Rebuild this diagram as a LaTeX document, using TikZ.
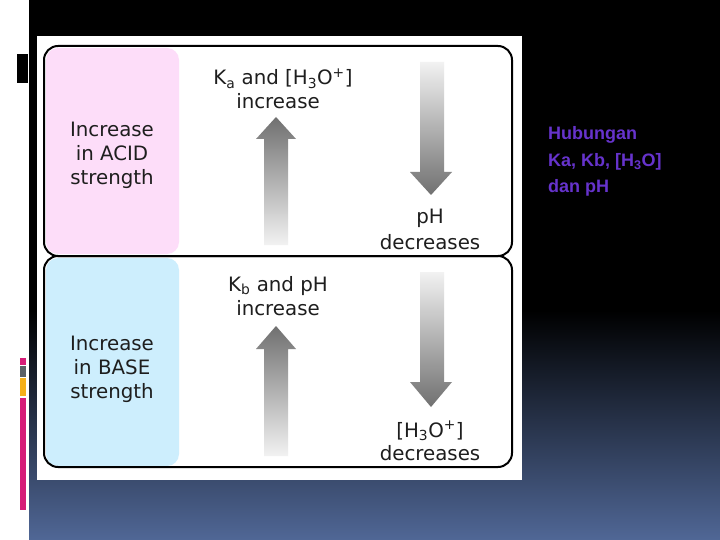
\documentclass[tikz,border=0pt]{standalone}
\usepackage{fontspec}
\setmainfont{DejaVu Sans}
\newfontfamily\arialfont{Liberation Sans}
\definecolor{bgbottom}{RGB}{80,103,150}
\definecolor{pinkfill}{RGB}{253,221,249}
\definecolor{bluefill}{RGB}{205,238,253}
\definecolor{titlecol}{RGB}{102,51,204}
\definecolor{barmag}{RGB}{214,28,120}
\definecolor{bargrey}{RGB}{90,96,102}
\definecolor{barorange}{RGB}{245,176,26}
\definecolor{txt}{RGB}{30,30,30}
\definecolor{arrdark}{RGB}{112,112,112}
\definecolor{arrlight}{RGB}{242,242,242}
\begin{document}
\begin{tikzpicture}[x=1pt,y=-1pt,
  lbl/.style={anchor=base, inner sep=0pt, text=txt, font=\fontsize{19.8}{24}\selectfont},
  ttl/.style={anchor=base west, inner sep=0pt, text=titlecol, font=\arialfont\bfseries\fontsize{18}{22}\selectfont},
  outline/.style={draw=black, line width=2pt, rounded corners=14pt},
  uparrow/.style={top color=arrdark, bottom color=arrlight},
  downarrow/.style={top color=arrlight, bottom color=arrdark}]
\useasboundingbox (0,0) rectangle (720,540);
% background
\fill[white] (0,0) rectangle (720,540);
\fill[black] (29,0) rectangle (720,311);
\shade[top color=black, bottom color=bgbottom] (29,310.5) rectangle (720,540);
% left decorations
\fill[black] (17,54) rectangle (28,83);
\fill[barmag] (20,358) rectangle (26,365);
\fill[bargrey] (20,366) rectangle (26,377);
\fill[barorange] (20,378) rectangle (26,396);
\fill[barmag] (20,398) rectangle (26,510);
% picture area
\fill[white] (37,36) rectangle (522,480);
\fill[pinkfill, rounded corners=12pt] (46,48) rectangle (179,254);
\fill[bluefill, rounded corners=12pt] (46,258) rectangle (179,466);
\draw[outline] (44,46) rectangle (512,256);
\draw[outline] (44,256) rectangle (512,467);
% arrows
\shade[uparrow] (264,245) -- (264,139) -- (256,139) -- (276,117) -- (296,139) -- (288,139) -- (288,245) -- cycle;
\shade[downarrow] (420,62) -- (420,172) -- (410,172) -- (431,195) -- (452,172) -- (444,172) -- (444,62) -- cycle;
\shade[uparrow] (264,456) -- (264,349) -- (256,349) -- (276,326) -- (296,349) -- (288,349) -- (288,456) -- cycle;
\shade[downarrow] (420,272) -- (420,382) -- (410,382) -- (431,407) -- (452,382) -- (444,382) -- (444,272) -- cycle;
% texts top box
\node[lbl] (a1) at (112,137) {Increase};
\node[lbl] (a2) at (112,161) {in ACID};
\node[lbl] (a3) at (112,185) {strength};
\node[lbl] (ka1) at (283,85) {K\textsubscript{a} and [H\textsubscript{3}O\textsuperscript{+}]};
\node[lbl] (ka2) at (278,109) {increase};
\node[lbl] (ph1) at (430,223) {pH};
\node[lbl] (ph2) at (430,249) {decreases};
% texts bottom box
\node[lbl] (b1) at (112,350) {Increase};
\node[lbl] (b2) at (112,374) {in BASE};
\node[lbl] (b3) at (112,398) {strength};
\node[lbl] (kb1) at (278,291) {K\textsubscript{b} and pH};
\node[lbl] (kb2) at (278,315) {increase};
\node[lbl] (h1) at (430,437) {[H\textsubscript{3}O\textsuperscript{+}]};
\node[lbl] (h2) at (430,460) {decreases};
% title
\node[ttl] (t1) at (548,140) {Hubungan};
\node[ttl] (t2) at (548,167) {Ka, Kb, [H\textsubscript{3}O]};
\node[ttl] (t3) at (548,193) {dan pH};
\end{tikzpicture}
\end{document}
